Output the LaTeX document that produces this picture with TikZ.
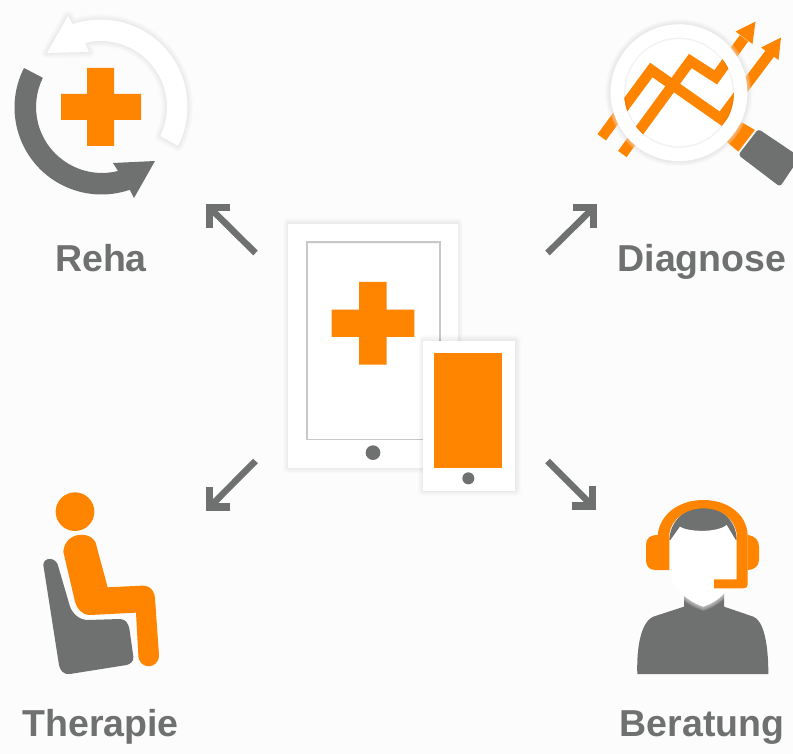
\documentclass[tikz,border=0pt]{standalone}
\usepackage{fontspec}
\setmainfont{Liberation Sans}
\definecolor{bg}{HTML}{FCFCFC}
\definecolor{org}{HTML}{FF8400}
\definecolor{gry}{HTML}{6F7170}
\definecolor{scr}{HTML}{C8C8C8}
\tikzset{
  label text/.style={font=\bfseries\fontsize{37.5}{40}\selectfont,text=gry,anchor=base,inner sep=0pt},
  flow/.style={draw=gry,line width=6.5pt},
  flowhead/.style={draw=gry,line width=7.5pt,line join=miter,line cap=butt},
  soft/.style={draw=black,draw opacity=0.011,line join=round},
  zoomed/.style={shift={#1},scale=0.33333},
  chartline/.style={draw=org,line width=10.5pt,line join=miter},
}
\newcommand{\softshadow}[1]{%
  \path[soft,line width=11pt] #1;
  \path[soft,line width=9pt] #1;
  \path[soft,line width=7pt] #1;
  \path[soft,line width=5pt] #1;
  \path[soft,line width=3pt] #1;
  \path[soft,line width=1.5pt] #1;
}
\begin{document}
\begin{tikzpicture}[x=1pt,y=-1pt]
\useasboundingbox (0,0) rectangle (793,754);
\clip (0,0) rectangle (793,754);
\fill[bg] (0,0) rectangle (793,754);

% ---- Reha icon
\def\whitearrow{(178,146) arc[start angle=-27,end angle=108.6,radius=87pt] -- (68,16) -- (47,53) -- (89,52) -- (85,43) arc[start angle=104,end angle=-26,radius=66pt] -- cycle}
\softshadow{\whitearrow}
\fill[white] \whitearrow;
\fill[gry] (24,68) arc[start angle=153,end angle=289,radius=87pt] -- (134,198) -- (155,161) -- (113,163) -- (118,171) arc[start angle=284,end angle=153.8,radius=66pt] -- cycle;
\fill[org] (87,68) -- (114,68) -- (114,94) -- (141,94) -- (141,120) -- (114,120) -- (114,146) -- (87,146) -- (87,120) -- (61,120) -- (61,94) -- (87,94) -- cycle;
\node[label text] (reha) at (101,272) {Reha};

% ---- Diagnose icon
\softshadow{(679,92.7) circle[radius=68.3]}
\fill[white] (679,92.7) circle[radius=68.3];
\draw[chartline] (601.7,137.3) -- (651.3,70) -- (720.7,118.7) -- (770,53.3);
\fill[org] (781,37.5) -- (761,47.5) -- (778.5,60) -- cycle;
\draw[chartline] (622.3,154) -- (690.3,61) -- (715.7,77.3) -- (744,38.3);
\fill[org] (755.5,21.5) -- (735.5,31.5) -- (752.5,44) -- cycle;
\fill[org] (726.7,141.7) -- (741.7,122.3) -- (755,130) -- (738.3,151.7) -- cycle;
% pale fade where the lens and the handle grip meet the orange shapes
\foreach \w in {8,6.5,5,3.5,2}
  \draw[white,opacity=0.13,line width=\w pt] (679,92.7) circle[radius=68.3];
\foreach \w in {5,3,1.5}
  \draw[white,opacity=0.18,line width=\w pt,rounded corners=3pt] (758.3,129) -- (800,157) -- (780,186.7) -- (738.3,155) -- cycle;
\fill[gry,rounded corners=3pt] (758.3,129) -- (800,157) -- (780,186.7) -- (738.3,155) -- cycle;
\foreach \w in {3.5,2.5,1.5}
  \draw[black,opacity=0.02,line width=\w pt] (679,92.7) circle[radius=55];
\foreach \w in {8,5,3}
  \draw[black,opacity=0.012,line width=\w pt] (679,92.7) circle[radius=68.3];
\draw[white,line width=13.3pt] (679,92.7) circle[radius=61.7];
\node[label text] (diag) at (702,272) {Diagnose};

% ---- Therapie icon
\begin{scope}[zoomed={(30,485)}]
\fill[org] (135,80) circle[radius=58];
\fill[org] (100,200) .. controls (105,135) and (195,135) .. (200,185) -- (233,307) -- (335,302)
  .. controls (365,300) and (375,325) .. (375,340) -- (387,510)
  .. controls (387,555) and (325,555) .. (325,510) -- (318,383) -- (180,390)
  .. controls (155,390) and (140,370) .. (135,350) -- cycle;
\fill[gry] (40,240) .. controls (40,215) and (80,215) .. (85,245) -- (120,365)
  .. controls (130,390) and (150,405) .. (175,405) -- (270,402)
  .. controls (290,402) and (295,420) .. (298,430) -- (310,515)
  .. controls (312,530) and (300,537) .. (290,540) -- (120,567)
  .. controls (100,570) and (90,555) .. (87,540) -- cycle;
\end{scope}
\node[label text] (thera) at (100.5,736) {Therapie};

% ---- Beratung icon
\begin{scope}[zoomed={(630,490)}]
\fill[gry] (22,552) .. controls (20,500) and (25,400) .. (70,380) -- (162,350) -- (162,300) -- (282,300) -- (282,350) -- (370,380)
  .. controls (395,390) and (415,440) .. (415,552) -- cycle;
\fill[gry] (118,150) .. controls (120,90) and (170,50) .. (220,50) .. controls (270,50) and (320,90) .. (320,150) -- cycle;
\foreach \w in {8,6,4,2}
  \draw[white,opacity=0.16,line width=\w pt] (320,240)
  .. controls (305,300) and (265,335) .. (220,350)
  .. controls (175,335) and (130,300) .. (115,240);
\fill[white] (150,110) .. controls (170,125) and (260,130) .. (290,105) -- (320,155) -- (320,240)
  .. controls (305,300) and (265,335) .. (220,350)
  .. controls (175,335) and (130,300) .. (115,240) -- (118,155) -- cycle;
\fill[org] (83,135) .. controls (90,70) and (150,30) .. (220,30) .. controls (290,30) and (350,70) .. (353,135)
  -- (353,283) .. controls (353,292) and (348,295) .. (340,295) -- (252,295) -- (252,268) -- (320,268) -- (320,130)
  .. controls (310,80) and (270,55) .. (220,55) .. controls (170,55) and (125,85) .. (118,130) -- (118,240) -- (75,240)
  .. controls (55,240) and (48,225) .. (48,210) -- (48,165) .. controls (48,145) and (60,135) .. (83,135) -- cycle;
\fill[org] (353,135) .. controls (375,138) and (387,150) .. (387,170) -- (387,210) .. controls (387,230) and (370,240) .. (353,240) -- cycle;
\end{scope}
\node[label text] (bera) at (702,736) {Beratung};

% ---- Devices
\begin{scope}[zoomed={(280,215)}]
\softshadow{(24,27) rectangle (533,758)}
\fill[white] (24,27) rectangle (533,758);
\fill[scr] (78,78) rectangle (482,674);
\fill[white] (83,84) rectangle (477,671);
\draw[black,opacity=0.04,line width=1pt] (85,86) -- (475,86);
\fill[org] (237,201) -- (320,201) -- (320,284) -- (403,284) -- (403,366) -- (320,366) -- (320,449) -- (237,449) -- (237,366) -- (155,366) -- (155,284) -- (237,284) -- cycle;
\fill[gry] (279,713) circle[radius=22];
\softshadow{(429,378) rectangle (705,828)}
\fill[white] (429,378) rectangle (705,828);
\fill[org] (462,414) rectangle (666,759);
\fill[gry] (565,790) circle[radius=18];
\end{scope}

% ---- Connectors
\coordinate (tl) at (255.5,253);
\coordinate (tr) at (547.5,253);
\coordinate (bl) at (255.5,461);
\coordinate (br) at (547.5,461);
\coordinate (tlend) at (209.7,207.7);
\coordinate (trend) at (593.5,207.7);
\coordinate (blend) at (209.7,507);
\coordinate (brend) at (592.5,506);
\draw[flow] (tl) -- (tlend);
\draw[flowhead] ([shift={(20.3,0)}]tlend) -- (tlend) -- ([shift={(0,20.3)}]tlend);
\draw[flow] (tr) -- (trend);
\draw[flowhead] ([shift={(-20.3,0)}]trend) -- (trend) -- ([shift={(0,20.3)}]trend);
\draw[flow] (bl) -- (blend);
\draw[flowhead] ([shift={(20.3,0)}]blend) -- (blend) -- ([shift={(0,-20.3)}]blend);
\draw[flow] (br) -- (brend);
\draw[flowhead] ([shift={(-20.3,0)}]brend) -- (brend) -- ([shift={(0,-20.3)}]brend);
\end{tikzpicture}
\end{document}
